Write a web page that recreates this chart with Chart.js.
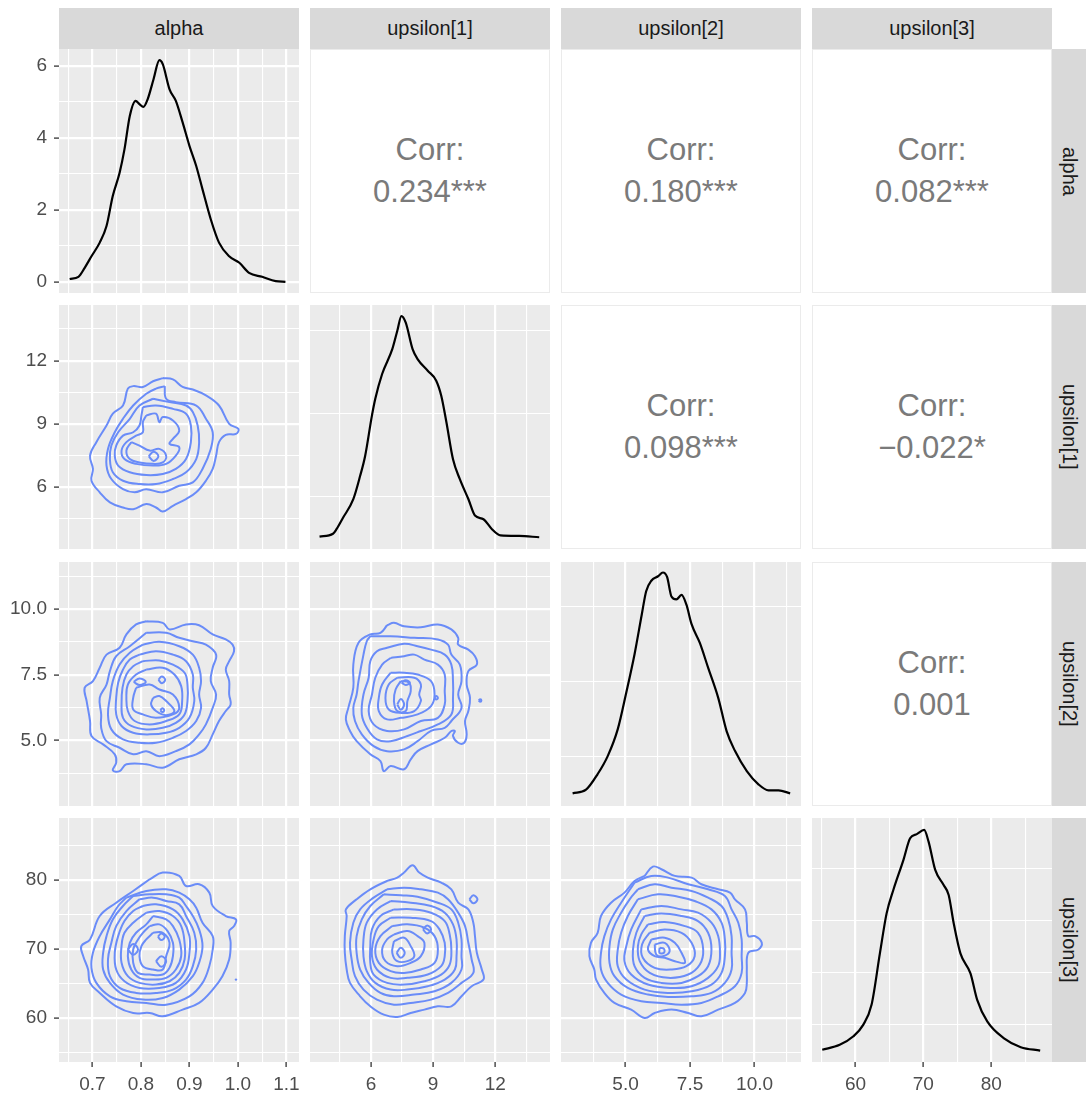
<!DOCTYPE html>
<html lang="en">
<head>
<meta charset="UTF-8" />
<title>Pairs plot</title>
<style>
  body { margin: 0; background: #fff; font-family: "Liberation Sans", Arial, sans-serif; }
  #plot { position: relative; width: 1086px; height: 1093px; overflow: hidden; }
  #plot canvas { position: absolute; }
  .strip-top {
    position: absolute; top: 8px; height: 41px; background: #d9d9d9; color: #1a1a1a;
    font-size: 20px; display: flex; align-items: center; justify-content: center;
  }
  .strip-right {
    position: absolute; left: 1052px; width: 34px; background: #d9d9d9; color: #1a1a1a;
    font-size: 20px; display: flex; align-items: center; justify-content: center;
  }
  .strip-right span { writing-mode: vertical-rl; }
  .corr {
    position: absolute; background: #fff; border: 1.5px solid #ebebeb; box-sizing: border-box;
    color: #7a7a7a; font-size: 31px; line-height: 42px;
    display: flex; flex-direction: column; align-items: center; justify-content: center;
  }
</style>
</head>
<body>
<div id="plot"></div>
<script src="https://cdn.jsdelivr.net/npm/chart.js"></script>
<script>
// variable names (strips)
const varNames = ["alpha", "upsilon[1]", "upsilon[2]", "upsilon[3]"];

// axis ranges and ticks
const alphaRange = [0.631, 1.126];
const alphaTicks = [0.7, 0.8, 0.9, 1.0, 1.1];
const alphaTickLabels = ["0.7", "0.8", "0.9", "1.0", "1.1"];
const alphaMinor = [0.65, 0.75, 0.85, 0.95, 1.05];

const u1Range = [3.06, 14.64];
const u1Ticks = [6, 9, 12];
const u1TickLabels = ["6", "9", "12"];
const u1Minor = [4.5, 7.5, 10.5, 13.5];

const u2Range = [2.5, 11.8];
const u2Ticks = [5, 7.5, 10];
const u2TickLabels = ["5.0", "7.5", "10.0"];
const u2Minor = [3.75, 6.25, 8.75, 11.25];

const u3Range = [53.6, 88.95];
const u3Ticks = [60, 70, 80];
const u3TickLabels = ["60", "70", "80"];
const u3Minor = [55, 65, 75, 85];

// density (y) axes of the diagonal panels
const dens0Range = [-0.31, 6.47];
const dens0Ticks = [0, 2, 4, 6];
const dens0TickLabels = ["0", "2", "4", "6"];
const dens0Minor = [1, 3, 5];
const dens1Range = [-0.0134, 0.2814];
const dens1Ticks = [0, 0.1, 0.2];
const dens1Minor = [0.05, 0.15, 0.25];
const dens2Range = [-0.0156, 0.31];
const dens2Ticks = [0, 0.1, 0.2, 0.3];
const dens2Minor = [0.05, 0.15, 0.25];
const dens3Range = [-0.0044, 0.0895];
const dens3Ticks = [0, 0.02, 0.04, 0.06, 0.08];
const dens3Minor = [0.01, 0.03, 0.05, 0.07];

// correlation texts (upper triangle)
const corrCells = [[0, 1], [0, 2], [0, 3], [1, 2], [1, 3], [2, 3]];
const corrValues = ["0.234***", "0.180***", "0.082***", "0.098***", "\u22120.022*", "0.001"];

// diagonal densities [x, density]
const alphaDensity = [[0.653,0.08],[0.671,0.14],[0.684,0.39],[0.698,0.71],[0.715,1.09],[0.729,1.55],[0.742,2.39],[0.756,3.03],[0.766,3.68],[0.777,4.61],[0.789,5.03],[0.797,4.94],[0.805,4.86],[0.814,5.08],[0.826,5.63],[0.838,6.16],[0.845,6.05],[0.859,5.35],[0.872,5.03],[0.886,4.43],[0.900,3.78],[0.914,3.22],[0.927,2.57],[0.944,1.74],[0.961,1.09],[0.982,0.71],[1.003,0.53],[1.023,0.25],[1.050,0.14],[1.078,0.02],[1.098,0.0]];
const u1Density = [[3.52,0.0016],[4.17,0.005],[4.34,0.0105],[4.66,0.0246],[5.15,0.0468],[5.48,0.075],[5.72,0.099],[6.05,0.148],[6.21,0.168],[6.54,0.198],[7.03,0.228],[7.27,0.250],[7.47,0.268],[7.68,0.260],[8.01,0.228],[8.25,0.216],[8.74,0.202],[9.15,0.190],[9.39,0.172],[9.64,0.140],[9.96,0.095],[10.29,0.071],[10.70,0.047],[11.02,0.027],[11.43,0.0226],[11.84,0.0105],[12.25,0.003],[13.15,0.0024],[14.12,0.0008]];
const u2Density = [[2.95,0.0013],[3.47,0.0062],[3.92,0.027],[4.31,0.051],[4.70,0.087],[5.03,0.136],[5.35,0.187],[5.63,0.240],[5.80,0.271],[6.00,0.285],[6.26,0.291],[6.45,0.296],[6.61,0.290],[6.78,0.264],[6.97,0.260],[7.17,0.266],[7.36,0.253],[7.56,0.227],[7.88,0.202],[8.20,0.169],[8.59,0.129],[8.92,0.084],[9.24,0.058],[9.70,0.031],[10.15,0.0133],[10.54,0.0053],[10.93,0.0053],[11.38,0.0013]];
const u3Density = [[55.11,0.0003],[57.68,0.0022],[59.65,0.0054],[61.14,0.0099],[62.37,0.0176],[63.6,0.0374],[64.59,0.0528],[65.58,0.0618],[67.06,0.0733],[68.05,0.0817],[69.04,0.0833],[70.12,0.0849],[70.77,0.0804],[71.75,0.0695],[72.99,0.0637],[73.73,0.0599],[74.47,0.049],[75.46,0.0374],[76.94,0.0297],[77.93,0.0195],[79.41,0.0112],[81.88,0.0047],[84.35,0.0013],[87.21,0.0]];

// 2D density contours, each ring a list of [x, y]
const contourAlphaU1 = [
  [[0.845,11.17],[0.866,11.11],[0.886,10.75],[0.907,10.63],[0.934,10.35],[0.961,9.87],[0.982,9.00],[1.001,8.76],[0.996,8.52],[0.975,8.48],[0.961,8.13],[0.955,7.49],[0.948,6.86],[0.934,6.30],[0.914,5.75],[0.893,5.43],[0.866,5.11],[0.845,4.84],[0.831,5.03],[0.811,5.19],[0.784,4.95],[0.763,5.03],[0.736,5.27],[0.715,5.75],[0.698,6.30],[0.701,6.86],[0.695,7.49],[0.708,8.13],[0.729,8.92],[0.742,9.48],[0.763,9.87],[0.773,10.67],[0.784,10.79],[0.804,10.75],[0.825,11.02]],
  [[0.849,10.79],[0.852,10.19],[0.872,10.03],[0.914,9.87],[0.934,9.24],[0.948,8.60],[0.944,7.81],[0.927,6.86],[0.907,6.22],[0.879,6.06],[0.845,5.75],[0.811,5.90],[0.787,5.75],[0.763,5.90],[0.739,6.38],[0.729,7.02],[0.732,7.81],[0.746,8.60],[0.763,9.24],[0.784,9.87],[0.811,10.43],[0.831,10.67]],
  [[0.825,10.19],[0.859,10.03],[0.893,9.87],[0.907,9.56],[0.917,8.92],[0.920,8.13],[0.914,7.33],[0.893,6.70],[0.866,6.38],[0.831,6.14],[0.797,6.14],[0.763,6.30],[0.742,6.70],[0.736,7.33],[0.739,7.97],[0.753,8.60],[0.777,9.24],[0.797,9.87]],
  [[0.804,9.79],[0.831,9.87],[0.866,9.71],[0.893,9.48],[0.903,8.92],[0.903,8.13],[0.893,7.33],[0.872,6.86],[0.845,6.62],[0.811,6.57],[0.777,6.70],[0.753,7.02],[0.746,7.49],[0.749,7.97],[0.763,8.44],[0.784,8.60],[0.797,8.92],[0.801,9.40]],
  [[0.811,9.40],[0.831,9.48],[0.838,9.08],[0.845,9.32],[0.866,9.16],[0.879,8.68],[0.866,8.29],[0.859,8.05],[0.879,7.89],[0.872,7.49],[0.852,7.10],[0.825,7.02],[0.790,7.10],[0.766,7.33],[0.760,7.73],[0.770,8.13],[0.790,8.44],[0.804,8.60],[0.804,9.08]],
  [[0.780,8.13],[0.797,7.97],[0.818,7.73],[0.838,7.81],[0.852,7.49],[0.845,7.17],[0.825,7.10],[0.797,7.17],[0.777,7.33],[0.770,7.73]],
  [[0.816,7.46],[0.826,7.68],[0.836,7.46],[0.826,7.24]]
];
const contourAlphaU2 = [
  [[0.811,9.54],[0.845,9.48],[0.859,9.23],[0.893,9.42],[0.920,9.39],[0.948,9.04],[0.975,8.85],[0.989,8.65],[0.992,8.40],[0.982,8.02],[0.975,7.70],[0.982,7.26],[0.982,6.75],[0.985,6.37],[0.975,6.12],[0.961,5.74],[0.948,5.23],[0.934,4.72],[0.914,4.47],[0.879,4.28],[0.845,3.96],[0.811,4.09],[0.770,4.09],[0.756,3.83],[0.742,3.86],[0.749,4.15],[0.746,4.47],[0.722,4.85],[0.698,5.17],[0.695,5.74],[0.688,6.50],[0.684,7.01],[0.701,7.26],[0.715,7.77],[0.729,8.27],[0.756,8.53],[0.770,9.04],[0.790,9.42]],
  [[0.811,9.10],[0.852,9.10],[0.879,8.91],[0.907,8.78],[0.934,8.65],[0.955,8.27],[0.948,7.77],[0.944,7.26],[0.955,6.75],[0.948,6.24],[0.934,5.61],[0.920,5.23],[0.900,4.85],[0.872,4.59],[0.838,4.40],[0.811,4.59],[0.784,4.47],[0.756,4.72],[0.729,4.97],[0.718,5.48],[0.718,5.99],[0.715,6.62],[0.729,7.13],[0.736,7.64],[0.749,8.21],[0.777,8.59]],
  [[0.804,8.65],[0.838,8.76],[0.879,8.59],[0.907,8.27],[0.920,7.77],[0.924,7.26],[0.920,6.75],[0.924,6.24],[0.914,5.74],[0.893,5.36],[0.866,5.10],[0.831,4.91],[0.797,4.91],[0.763,5.04],[0.739,5.42],[0.732,5.99],[0.736,6.62],[0.742,7.26],[0.756,7.89],[0.777,8.34]],
  [[0.797,8.27],[0.831,8.40],[0.866,8.27],[0.893,8.02],[0.907,7.51],[0.907,7.01],[0.910,6.50],[0.900,5.86],[0.879,5.48],[0.852,5.29],[0.818,5.23],[0.784,5.29],[0.760,5.55],[0.749,5.99],[0.749,6.62],[0.753,7.20],[0.763,7.70],[0.777,8.08]],
  [[0.804,8.02],[0.838,8.05],[0.866,7.89],[0.890,7.58],[0.896,7.13],[0.896,6.50],[0.890,5.99],[0.872,5.67],[0.845,5.48],[0.811,5.42],[0.780,5.55],[0.763,5.86],[0.760,6.37],[0.762,7.01],[0.770,7.51],[0.784,7.83]],
  [[0.811,7.70],[0.845,7.77],[0.869,7.51],[0.883,7.07],[0.885,6.50],[0.879,5.99],[0.852,5.74],[0.818,5.61],[0.787,5.74],[0.773,6.12],[0.770,6.62],[0.773,7.13],[0.790,7.51]],
  [[0.790,7.01],[0.818,7.13],[0.838,6.94],[0.866,6.75],[0.879,6.24],[0.866,5.99],[0.831,5.86],[0.804,5.99],[0.784,6.18],[0.784,6.62]],
  [[0.785,7.23],[0.797,7.36],[0.810,7.23],[0.797,7.11]],
  [[0.836,7.31],[0.843,7.44],[0.850,7.31],[0.843,7.18]],
  [[0.825,6.62],[0.838,6.69],[0.852,6.50],[0.869,6.12],[0.852,5.96],[0.831,6.12],[0.821,6.37]],
  [[0.840,6.15],[0.844,6.23],[0.848,6.15],[0.844,6.08]]
];
const contourU1U2 = [
  [[6.78,9.39],[7.11,9.48],[7.60,9.35],[8.41,9.31],[9.23,9.42],[9.88,9.23],[10.21,8.91],[10.21,8.65],[10.70,8.46],[11.02,8.21],[11.11,7.89],[10.70,7.64],[10.62,7.13],[10.78,6.62],[10.70,6.12],[10.54,5.74],[10.62,5.23],[10.50,4.91],[10.21,4.91],[9.96,5.17],[10.05,5.36],[9.88,5.36],[9.56,5.10],[8.90,4.85],[8.25,4.59],[7.92,4.28],[7.60,3.90],[6.95,4.02],[6.62,3.83],[6.46,4.21],[5.97,4.47],[5.31,4.97],[4.99,5.36],[4.79,5.80],[4.91,6.24],[5.15,7.01],[5.15,7.89],[5.40,8.72],[5.97,9.04],[6.46,9.10]],
  [[5.97,8.97],[6.95,8.97],[8.09,8.91],[9.23,8.85],[9.72,8.65],[9.88,8.27],[10.29,7.89],[10.37,7.26],[10.21,6.75],[10.37,6.24],[9.88,5.74],[9.56,5.48],[8.90,5.36],[8.25,4.97],[7.60,4.66],[6.78,4.59],[6.13,4.78],[5.56,5.23],[5.23,5.74],[5.15,6.24],[5.31,6.75],[5.40,7.26],[5.64,8.27],[5.80,8.78]],
  [[6.78,8.53],[7.60,8.68],[8.25,8.59],[8.90,8.46],[9.56,8.27],[9.88,7.89],[9.96,7.26],[9.96,6.62],[9.88,5.99],[9.23,5.61],[8.41,5.36],[7.76,5.17],[6.95,4.97],[6.29,5.04],[5.80,5.48],[5.56,5.99],[5.64,6.75],[5.89,7.39],[5.97,8.02],[6.29,8.40]],
  [[6.95,8.14],[7.60,8.21],[8.09,8.27],[8.58,8.08],[9.23,7.89],[9.56,7.51],[9.56,6.88],[9.56,6.37],[9.23,5.86],[8.41,5.74],[7.60,5.42],[6.78,5.36],[6.13,5.61],[5.89,6.12],[6.05,6.75],[6.21,7.39],[6.54,7.89]],
  [[6.95,7.58],[7.60,7.58],[8.25,7.51],[8.90,7.26],[9.07,6.75],[8.90,6.31],[8.25,5.99],[7.44,5.86],[6.78,5.80],[6.38,6.12],[6.38,6.62],[6.54,7.13]],
  [[7.27,7.39],[8.09,7.39],[8.41,7.13],[8.33,6.75],[8.41,6.50],[8.09,6.12],[7.44,6.05],[6.86,6.18],[6.70,6.62],[6.86,7.13]],
  [[7.44,7.26],[7.84,7.20],[7.92,6.88],[7.76,6.50],[7.68,6.12],[7.27,6.12],[7.11,6.50],[7.19,6.94]],
  [[7.48,7.20],[7.68,7.29],[7.88,7.20],[7.68,7.11]],
  [[7.27,6.37],[7.44,6.58],[7.60,6.37],[7.44,6.17]],
  [[9.07,6.62],[9.15,6.69],[9.23,6.62],[9.15,6.56]],
  [[11.20,6.52],[11.27,6.57],[11.33,6.52],[11.27,6.47]]
];
const contourAlphaU3 = [
  [[0.818,80.07],[0.845,81.04],[0.879,80.56],[0.893,79.10],[0.920,79.35],[0.941,78.14],[0.948,76.20],[0.975,74.75],[0.996,74.26],[0.992,73.29],[0.982,72.57],[0.985,70.87],[0.982,68.45],[0.968,66.03],[0.948,64.09],[0.920,62.16],[0.886,61.19],[0.845,60.22],[0.818,60.70],[0.784,60.70],[0.749,61.67],[0.715,63.61],[0.695,65.06],[0.691,67.00],[0.681,68.93],[0.677,70.39],[0.695,71.36],[0.715,74.75],[0.749,76.68],[0.784,78.38]],
  [[0.770,77.41],[0.811,78.38],[0.852,78.62],[0.879,78.14],[0.900,77.17],[0.914,75.96],[0.927,73.78],[0.948,71.84],[0.948,69.90],[0.941,67.48],[0.927,65.06],[0.900,63.12],[0.852,61.91],[0.811,62.16],[0.770,62.40],[0.736,63.12],[0.708,65.06],[0.698,67.24],[0.701,69.42],[0.715,71.84],[0.736,74.26],[0.753,76.20]],
  [[0.784,77.65],[0.818,77.89],[0.852,77.89],[0.879,77.41],[0.893,76.20],[0.907,74.75],[0.920,72.81],[0.927,70.39],[0.920,67.97],[0.907,66.03],[0.879,64.09],[0.845,62.88],[0.804,62.64],[0.763,63.37],[0.736,65.06],[0.722,67.00],[0.722,69.42],[0.729,71.84],[0.742,74.26],[0.763,76.20]],
  [[0.797,77.17],[0.825,77.41],[0.852,76.92],[0.879,76.44],[0.893,74.75],[0.910,72.32],[0.914,69.90],[0.907,67.48],[0.893,65.54],[0.866,64.09],[0.831,63.61],[0.790,63.61],[0.756,64.33],[0.736,66.03],[0.732,68.45],[0.739,70.87],[0.749,73.29],[0.770,75.47]],
  [[0.804,76.20],[0.831,76.44],[0.866,75.71],[0.886,74.26],[0.900,71.84],[0.900,69.42],[0.893,67.00],[0.872,65.06],[0.838,64.33],[0.797,64.33],[0.766,65.30],[0.749,67.00],[0.746,69.42],[0.753,71.84],[0.766,74.02],[0.784,75.47]],
  [[0.811,75.23],[0.838,75.47],[0.866,74.75],[0.883,73.29],[0.890,70.87],[0.890,68.45],[0.879,66.51],[0.859,65.30],[0.831,64.82],[0.797,65.06],[0.773,66.03],[0.760,67.97],[0.760,70.39],[0.766,72.32],[0.784,73.78]],
  [[0.825,74.75],[0.852,74.26],[0.866,73.29],[0.879,71.36],[0.883,68.93],[0.872,67.00],[0.852,65.79],[0.825,65.54],[0.797,65.79],[0.780,67.00],[0.773,68.93],[0.777,70.87],[0.790,72.32],[0.811,73.54]],
  [[0.818,73.29],[0.838,73.54],[0.855,72.57],[0.866,70.87],[0.866,68.93],[0.859,67.24],[0.845,66.27],[0.818,66.27],[0.794,66.51],[0.784,67.97],[0.784,69.90],[0.794,71.36],[0.804,72.32]],
  [[0.825,72.32],[0.845,72.32],[0.859,70.87],[0.852,68.93],[0.845,67.00],[0.825,67.00],[0.804,67.48],[0.797,68.93],[0.801,70.39],[0.811,71.36]],
  [[0.773,69.90],[0.784,70.68],[0.794,69.90],[0.784,69.13]],
  [[0.835,71.74],[0.842,72.23],[0.849,71.74],[0.842,71.26]],
  [[0.831,68.21],[0.842,68.93],[0.852,68.21],[0.842,67.39]]
];
const dotAlphaU3 = [[0.996, 65.54]];
const contourU1U3 = [
  [[7.60,81.04],[8.01,82.11],[8.33,81.04],[8.74,80.31],[9.39,79.59],[9.88,78.62],[10.21,76.68],[10.70,75.71],[10.94,73.78],[11.02,71.84],[11.11,69.42],[11.35,67.00],[11.43,65.54],[10.86,64.58],[10.37,63.12],[9.88,61.67],[9.23,61.67],[8.58,61.19],[7.92,60.70],[7.27,60.12],[6.62,60.46],[5.97,61.67],[5.48,63.12],[4.99,65.06],[4.83,67.00],[4.74,69.42],[4.74,71.84],[4.83,74.75],[4.79,75.71],[5.31,77.17],[5.97,78.62],[6.78,79.83],[7.27,80.31]],
  [[10.75,77.17],[10.94,77.75],[11.14,77.17],[10.94,76.59]],
  [[6.78,78.62],[7.60,78.86],[8.41,78.62],[9.23,78.14],[9.72,77.17],[10.21,75.23],[10.54,73.29],[10.70,70.87],[10.86,68.45],[10.94,66.51],[10.37,65.06],[9.72,63.61],[8.90,62.64],[7.92,62.16],[7.11,61.91],[6.29,62.64],[5.64,64.09],[5.23,66.03],[5.07,68.45],[4.99,70.87],[5.15,73.78],[5.48,75.71],[6.13,77.41]],
  [[6.62,77.89],[7.44,77.75],[8.25,77.55],[9.23,76.68],[9.88,75.71],[10.21,73.78],[10.37,71.36],[10.37,68.93],[10.37,67.00],[9.88,65.06],[9.07,63.85],[8.09,63.37],[7.11,63.12],[6.46,63.61],[5.89,65.06],[5.48,67.00],[5.31,69.42],[5.31,71.84],[5.56,74.26],[5.97,76.20]],
  [[6.95,76.92],[7.92,76.68],[8.90,76.20],[9.56,75.23],[9.96,73.54],[10.13,71.36],[10.13,68.93],[10.05,67.00],[9.56,65.54],[8.74,64.58],[7.76,64.09],[6.95,64.09],[6.21,65.06],[5.80,66.76],[5.64,68.93],[5.64,71.36],[5.80,73.78],[6.29,75.71]],
  [[7.11,75.71],[8.09,75.71],[8.90,75.23],[9.56,74.02],[9.80,72.08],[9.88,69.90],[9.80,67.72],[9.39,66.27],[8.58,65.30],[7.60,64.82],[6.78,65.06],[6.13,66.27],[5.97,67.97],[5.97,70.39],[6.05,72.81],[6.46,74.75]],
  [[6.95,74.50],[7.92,74.50],[8.90,74.02],[9.31,72.81],[9.56,70.87],[9.56,68.93],[9.39,67.48],[8.74,66.27],[7.76,65.79],[6.95,65.79],[6.29,67.00],[6.05,68.93],[6.13,71.36],[6.38,73.29]],
  [[7.03,73.29],[7.76,73.54],[8.58,73.05],[9.07,71.84],[9.23,69.90],[9.07,67.97],[8.41,67.00],[7.60,66.51],[6.95,66.76],[6.38,67.97],[6.21,69.90],[6.46,71.84]],
  [[7.11,72.08],[7.76,72.57],[8.25,71.84],[8.58,70.87],[8.41,68.93],[7.92,67.97],[7.27,67.48],[6.70,68.21],[6.54,69.90],[6.78,71.36]],
  [[7.11,71.11],[7.60,71.60],[7.92,70.39],[8.09,68.93],[7.76,68.21],[7.27,68.21],[7.03,69.42]],
  [[7.24,69.42],[7.44,70.15],[7.63,69.42],[7.44,68.69]],
  [[8.51,72.81],[8.71,73.39],[8.90,72.81],[8.71,72.23]]
];
const contourU2U3 = [
  [[5.74,80.56],[6.06,81.91],[6.39,81.53],[6.91,80.56],[7.56,80.31],[7.94,79.35],[8.59,78.62],[9.05,78.14],[9.24,77.17],[9.63,75.71],[9.70,73.78],[9.76,71.84],[10.02,71.84],[10.28,70.87],[10.15,69.90],[9.76,69.42],[9.70,67.00],[9.70,65.06],[9.63,63.61],[9.24,62.16],[8.59,61.19],[7.94,60.22],[7.43,60.70],[6.78,61.19],[6.13,60.70],[5.74,59.98],[5.22,61.19],[4.57,62.16],[4.18,63.61],[3.86,65.54],[3.79,67.00],[3.60,68.93],[3.66,70.87],[3.92,72.32],[4.05,74.75],[4.44,76.68],[4.96,78.14],[5.35,79.83]],
  [[5.35,79.59],[6.00,80.56],[6.65,80.31],[7.43,79.35],[8.20,78.62],[8.85,77.65],[9.11,75.71],[9.37,73.78],[9.50,71.36],[9.50,68.93],[9.50,66.51],[9.24,64.58],[8.59,63.12],[7.94,62.16],[7.17,61.91],[6.39,62.16],[5.61,62.40],[4.83,63.37],[4.31,65.06],[4.05,67.00],[4.05,69.42],[4.18,71.84],[4.44,74.26],[4.83,76.68]],
  [[5.48,78.62],[6.13,79.35],[6.78,78.86],[7.56,78.38],[8.20,77.41],[8.72,76.20],[8.98,74.26],[9.11,71.84],[9.11,69.42],[9.11,67.00],[8.85,65.06],[8.33,63.61],[7.56,63.12],[6.65,63.03],[5.87,63.37],[5.09,64.33],[4.57,66.03],[4.38,67.97],[4.38,70.39],[4.51,72.81],[4.83,75.23],[5.16,77.17]],
  [[5.48,77.17],[6.26,77.89],[7.04,77.55],[7.68,76.92],[8.33,75.71],[8.72,73.78],[8.85,71.36],[8.85,68.93],[8.72,66.51],[8.33,64.82],[7.56,63.85],[6.65,63.61],[5.74,64.09],[5.03,65.54],[4.70,67.48],[4.70,69.90],[4.83,72.32],[5.09,74.75]],
  [[5.61,75.71],[6.39,76.20],[7.17,75.71],[7.81,75.23],[8.33,73.78],[8.59,71.84],[8.66,69.42],[8.59,67.48],[8.20,65.79],[7.56,64.58],[6.78,64.33],[5.87,64.82],[5.22,66.27],[4.96,68.21],[5.03,70.39],[5.22,72.81]],
  [[5.74,74.75],[6.39,75.13],[7.17,74.75],[7.81,74.02],[8.20,72.32],[8.33,69.90],[8.20,67.48],[7.81,66.03],[7.17,65.06],[6.39,65.06],[5.74,65.79],[5.35,67.48],[5.29,69.90],[5.42,72.32]],
  [[5.87,73.54],[6.52,73.87],[7.30,73.29],[7.81,72.32],[8.01,69.90],[7.88,67.72],[7.43,66.27],[6.65,65.79],[5.94,66.51],[5.55,68.21],[5.48,70.39],[5.61,72.08]],
  [[5.93,72.32],[6.52,72.81],[7.17,72.32],[7.56,70.87],[7.68,68.93],[7.36,67.48],[6.78,67.00],[6.13,67.24],[5.67,68.69],[5.64,70.63]],
  [[6.00,71.36],[6.52,71.60],[6.91,70.87],[7.17,69.42],[7.30,67.97],[6.91,68.21],[6.52,68.69],[6.13,68.93],[5.87,69.90]],
  [[6.13,70.63],[6.52,70.87],[6.71,69.66],[6.45,68.93],[6.19,69.18]],
  [[6.32,70.15],[6.49,70.00],[6.49,69.42],[6.32,69.42]]
];

// ---- layout ----
const colLeft = [59, 310, 561, 812];
const rowTop = [49, 305, 562, 818];
const panelW = 240, panelH = 244;
const yAxisW = 59, xAxisH = 31, padR = 6;

const varAxes = [
  { range: alphaRange, ticks: alphaTicks, labels: alphaTickLabels, minor: alphaMinor },
  { range: u1Range, ticks: u1Ticks, labels: u1TickLabels, minor: u1Minor },
  { range: u2Range, ticks: u2Ticks, labels: u2TickLabels, minor: u2Minor },
  { range: u3Range, ticks: u3Ticks, labels: u3TickLabels, minor: u3Minor }
];
const densAxes = [
  { range: dens0Range, ticks: dens0Ticks, labels: dens0TickLabels, minor: dens0Minor },
  { range: dens1Range, ticks: dens1Ticks, labels: [], minor: dens1Minor },
  { range: dens2Range, ticks: dens2Ticks, labels: [], minor: dens2Minor },
  { range: dens3Range, ticks: dens3Ticks, labels: [], minor: dens3Minor }
];
const densities = [alphaDensity, u1Density, u2Density, u3Density];
const contours = {
  "1,0": contourAlphaU1, "2,0": contourAlphaU2, "2,1": contourU1U2,
  "3,0": contourAlphaU3, "3,1": contourU1U3, "3,2": contourU2U3
};

Chart.defaults.font.family = '"Liberation Sans", Arial, sans-serif';

function majorIndex(axis, v) {
  return axis.ticks.findIndex(t => Math.abs(t - v) < 1e-9);
}

function makeScale(axis, pos, show) {
  const all = axis.ticks.concat(axis.minor).sort((a, b) => a - b);
  const isMajor = ctx => ctx.tick && majorIndex(axis, ctx.tick.value) >= 0;
  return {
    type: "linear",
    position: pos,
    min: axis.range[0],
    max: axis.range[1],
    afterBuildTicks: s => { s.ticks = all.map(v => ({ value: v })); },
    afterFit: s => {
      // fixed axis size, no extra padding so every panel lines up
      if (pos === "left") { s.width = show ? yAxisW : 0; s.paddingTop = 0; s.paddingBottom = 0; }
      else { s.height = show ? xAxisH : 0; s.paddingLeft = 0; s.paddingRight = 0; }
    },
    border: { display: false },
    grid: {
      color: "#ffffff",
      lineWidth: ctx => (isMajor(ctx) ? 2.2 : 1.1),
      drawTicks: show,
      tickLength: 5,
      tickWidth: 1.3,
      tickColor: ctx => (isMajor(ctx) ? "#333333" : "rgba(0,0,0,0)")
    },
    ticks: {
      display: show,
      autoSkip: false,
      maxRotation: 0,
      padding: pos === "left" ? 7 : 6,
      color: "#4d4d4d",
      font: { size: 19 },
      callback: v => {
        const i = majorIndex(axis, v);
        return i < 0 ? "" : axis.labels[i];
      }
    }
  };
}

const panelBg = {
  id: "panelBg",
  beforeDraw(chart) {
    const a = chart.chartArea, ctx = chart.ctx;
    ctx.save();
    ctx.fillStyle = "#ebebeb";
    ctx.fillRect(a.left, a.top, a.right - a.left, a.bottom - a.top);
    ctx.restore();
  }
};

const plot = document.getElementById("plot");

for (let r = 0; r < 4; r++) {
  for (let c = 0; c < 4; c++) {
    if (r < c) continue;
    const showY = c === 0, showX = r === 3;
    const cv = document.createElement("canvas");
    const w = panelW + (showY ? yAxisW : 0) + padR;
    const h = panelH + (showX ? xAxisH : 0);
    cv.width = w; cv.height = h;
    cv.style.width = w + "px"; cv.style.height = h + "px";
    cv.style.left = (colLeft[c] - (showY ? yAxisW : 0)) + "px";
    cv.style.top = rowTop[r] + "px";
    plot.appendChild(cv);

    let datasets = [];
    let yAxis;
    if (r === c) {
      yAxis = densAxes[r];
      datasets.push({
        data: densities[r], showLine: true, borderColor: "#000000", borderWidth: 2.2,
        pointRadius: 0, cubicInterpolationMode: "monotone", fill: false
      });
    } else {
      yAxis = varAxes[r];
      contours[r + "," + c].forEach(ring => {
        datasets.push({
          data: ring.concat([ring[0]]), showLine: true, borderColor: "#6a8cf8",
          borderWidth: 2, pointRadius: 0, tension: 0.4, fill: false
        });
      });
      if (r === 3 && c === 0) {
        datasets.push({ data: dotAlphaU3, showLine: false, pointRadius: 1.2,
          pointBackgroundColor: "#6a8cf8", pointBorderWidth: 0 });
      }
    }

    new Chart(cv, {
      type: "scatter",
      data: { datasets: datasets },
      options: {
        responsive: false,
        animation: false,
        devicePixelRatio: 1,
        events: [],
        layout: { autoPadding: false, padding: { left: 0, top: 0, bottom: 0, right: padR } },
        plugins: { legend: { display: false }, tooltip: { enabled: false } },
        scales: {
          x: makeScale(varAxes[c], "bottom", showX),
          y: makeScale(yAxis, "left", showY)
        }
      },
      plugins: [panelBg]
    });
  }
}

// correlation panels
corrCells.forEach((cell, i) => {
  const d = document.createElement("div");
  d.className = "corr";
  d.style.left = colLeft[cell[1]] + "px";
  d.style.top = rowTop[cell[0]] + "px";
  d.style.width = panelW + "px";
  d.style.height = panelH + "px";
  const a = document.createElement("div"); a.textContent = "Corr:";
  const b = document.createElement("div"); b.textContent = corrValues[i];
  d.appendChild(a); d.appendChild(b);
  plot.appendChild(d);
});

// strips
varNames.forEach((name, i) => {
  const t = document.createElement("div");
  t.className = "strip-top";
  t.style.left = colLeft[i] + "px";
  t.style.width = panelW + "px";
  t.textContent = name;
  plot.appendChild(t);

  const s = document.createElement("div");
  s.className = "strip-right";
  s.style.top = rowTop[i] + "px";
  s.style.height = panelH + "px";
  const sp = document.createElement("span");
  sp.textContent = name;
  s.appendChild(sp);
  plot.appendChild(s);
});
</script>
</body>
</html>
